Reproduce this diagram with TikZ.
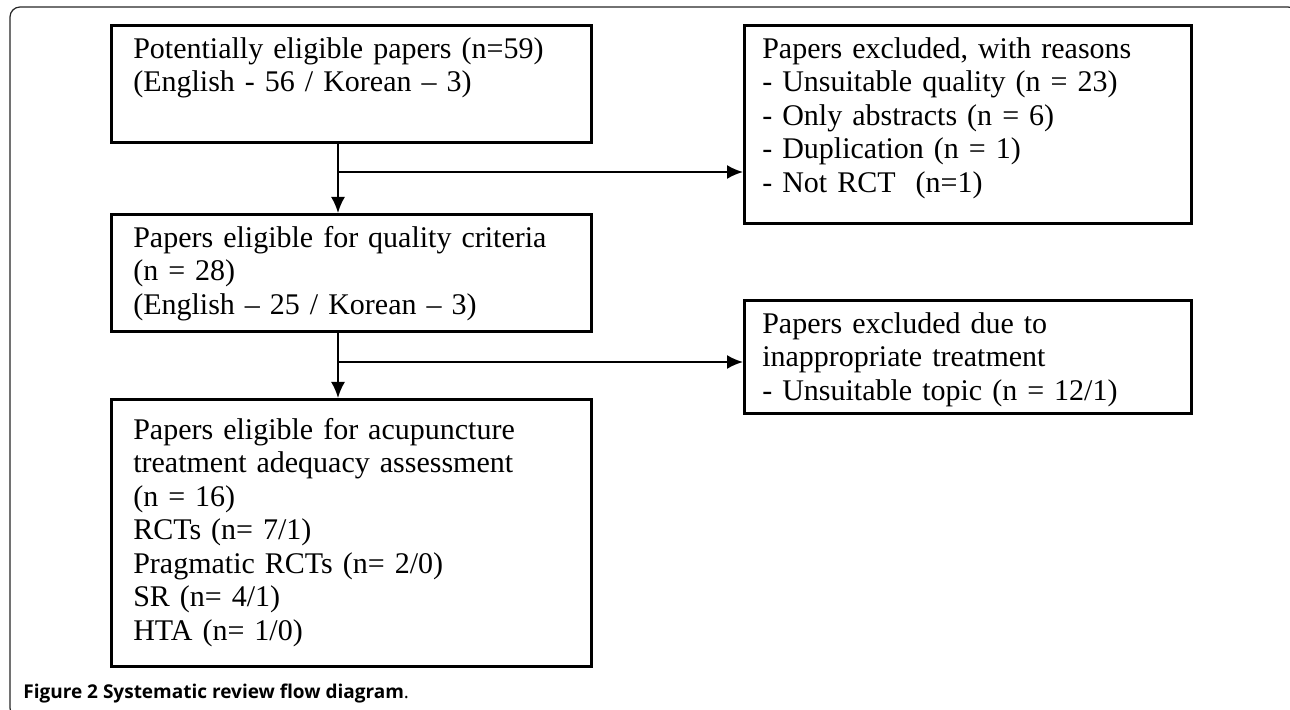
\documentclass[tikz,border=0pt]{standalone}
\usepackage{fontspec}
\setmainfont{Liberation Serif}[WordSpace=0.55]
\newfontfamily\capfont{Open Sans}
\usepackage{tikz}
\usetikzlibrary{arrows.meta,positioning,calc}

\begin{document}
\begin{tikzpicture}[
        x=0.5pt, y=-0.5pt,
        block/.style={rectangle, draw=black, line width=1.3pt, anchor=north west, align=left, inner ysep=0pt, text height=16.5pt, font=\fontsize{15}{16.75}\selectfont},
        leftblock/.style={block, inner xsep=11pt, text width=218pt},
        rightblock/.style={block, inner xsep=9pt, text width=205.5pt},
        arrow/.style={-{Latex[length=8pt,width=7pt]}, line width=1pt},
        frame/.style={draw=black!85, line width=0.6pt, rounded corners=5pt}
    ]
        \useasboundingbox (0,0) rectangle (1290,710);
        \begin{scope}
            \clip (0,0) rectangle (1290,710);
            \draw[frame] (10,7) rectangle (1298,718);
        \end{scope}

        \node[leftblock, text depth=42pt] (eligible) at (110,24) {Potentially eligible papers (n=59)\\(English - 56 / Korean -- 3)};
        \node[rightblock, text depth=82.5pt] (reasons) at (743,24) {Papers excluded, with reasons\\- Unsuitable quality (n = 23)\\- Only abstracts (n = 6)\\- Duplication (n = 1)\\- Not RCT\ \ (n=1)};
        \node[leftblock, text depth=42pt] (quality) at (110,213) {Papers eligible for quality criteria\\(n = 28)\\(English -- 25 / Korean -- 3)};
        \node[rightblock, text depth=40pt] (treatment) at (743,299) {Papers excluded due to\\inappropriate treatment\\- Unsuitable topic (n = 12/1)};
        \node[leftblock, text height=20pt, text depth=113.5pt] (adequacy) at (110,398) {Papers eligible for acupuncture\\treatment adequacy assessment\\(n = 16)\\RCTs (n= 7/1)\\Pragmatic RCTs (n= 2/0)\\SR (n= 4/1)\\HTA (n= 1/0)};

        \coordinate (split1) at (338,172);
        \coordinate (split2) at (338,362);
        \draw[arrow] (eligible.south -| split1) -- (quality.north -| split1);
        \draw[arrow] (split1) -- (split1 -| reasons.west);
        \draw[arrow] (quality.south -| split2) -- (adequacy.north -| split2);
        \draw[arrow] (split2) -- (split2 -| treatment.west);

        \node[anchor=base west, inner sep=0pt, font=\capfont\fontsize{9.5}{12}\selectfont] (caption) at (23,698) {\textbf{Figure 2 Systematic review flow diagram}.};
    \end{tikzpicture}
\end{document}
